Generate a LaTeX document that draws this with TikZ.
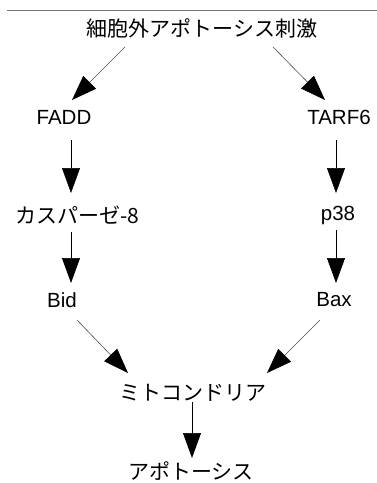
\documentclass[tikz,border=0pt]{standalone}
\usepackage{fontspec}
\setmainfont{Liberation Sans}
\newfontfamily\jp{Noto Sans CJK JP}
\usetikzlibrary{arrows.meta}
\tikzset{
  lbl/.style={inner sep=0pt, font=\fontsize{20.5}{22}\selectfont},
  jlbl/.style={inner sep=0pt, font=\jp\fontsize{21}{22}\selectfont},
  arr/.style={-{Triangle[length=25pt,width=18pt]}, line width=0.7pt, black},
  darr/.style={-{Triangle[length=25pt,width=18pt,color=black]}, line width=0.6pt, black!70},
  rule/.style={line width=0.8pt, black!55}
}
\begin{document}
\begin{tikzpicture}[x=1pt,y=-1pt]
\useasboundingbox (0,0) rectangle (377,483);
\coordinate (ruleL) at (7,10);
\coordinate (ruleR) at (377,10);
\draw[rule] (ruleL) -- (ruleR);
\node[jlbl] (title) at (202,28) {細胞外アポトーシス刺激};
\node[lbl] (fadd) at (64,117) {FADD};
\node[lbl] (tarf) at (339,117) {TARF6};
\node[jlbl] (casp) at (77,215) {カスパーゼ-8};
\node[lbl] (p38) at (338,215) {p38};
\node[lbl] (bid) at (62,300) {Bid};
\node[lbl] (bax) at (334,300) {Bax};
\node[jlbl] (mito) at (193,393) {ミトコンドリア};
\node[jlbl] (apop) at (191,471) {アポトーシス};
% diagonal arrows
\draw[darr] ([xshift=-77pt,yshift=-19pt]title.center) -- ([xshift=8pt,yshift=17pt]fadd.center);
\draw[darr] ([xshift=71pt,yshift=-19pt]title.center) -- ([xshift=-14pt,yshift=17pt]tarf.center);
\draw[darr] ([xshift=15pt,yshift=-20pt]bid.center) -- ([xshift=-65pt,yshift=20pt]mito.center);
\draw[darr] ([xshift=-14pt,yshift=-20pt]bax.center) -- ([xshift=74pt,yshift=20pt]mito.center);
% vertical arrows
\draw[arr] ([xshift=7pt,yshift=-23pt]fadd.center) -- ([xshift=-6pt,yshift=22pt]casp.center);
\draw[arr] ([xshift=-6pt,yshift=-17pt]casp.center) -- ([xshift=9pt,yshift=17pt]bid.center);
\draw[arr] ([xshift=-3pt,yshift=-23pt]tarf.center) -- ([xshift=-2pt,yshift=22pt]p38.center);
\draw[arr] ([xshift=-2pt,yshift=-15pt]p38.center) -- ([xshift=2pt,yshift=17pt]bax.center);
\draw[arr] ([xshift=-1pt,yshift=-9pt]mito.center) -- ([xshift=1pt,yshift=13pt]apop.center);
\end{tikzpicture}
\end{document}
